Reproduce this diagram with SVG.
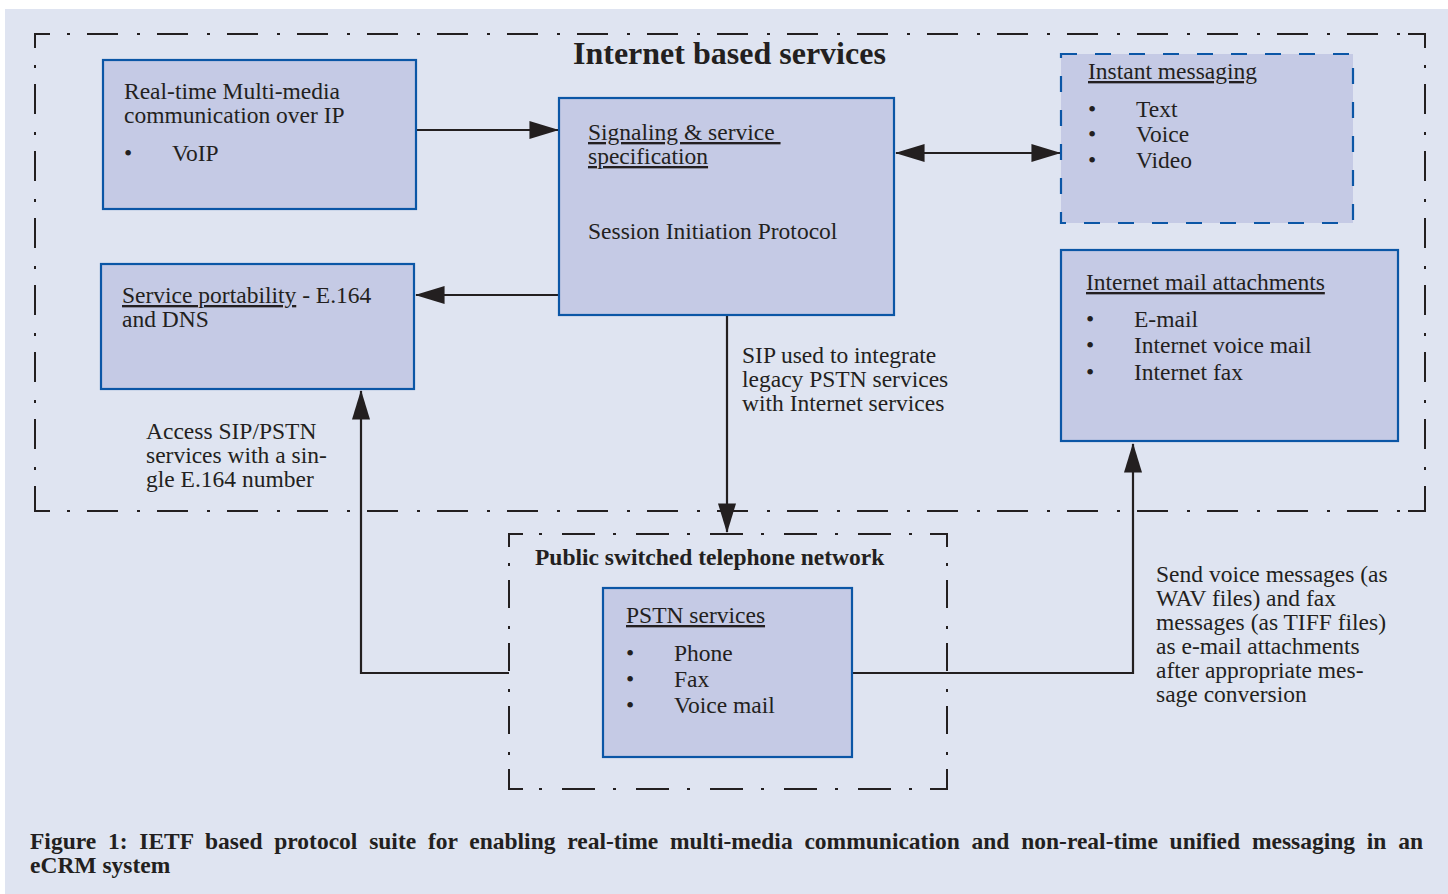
<svg xmlns="http://www.w3.org/2000/svg" width="1448" height="894" viewBox="0 0 1448 894">
  <style>
    .bg { fill: #dfe4f1; }
    .box { fill: #c5cae5; stroke: #0b56a6; stroke-width: 2.2; }
    .boxdash { fill: #c5cae5; stroke: #0b56a6; stroke-width: 2.2; stroke-dasharray: 16 18; }
    .t { font-family: "Liberation Serif", "Times New Roman", serif; font-size: 23.5px; fill: #231f20; }
    .b { font-family: "Liberation Serif", "Times New Roman", serif; font-weight: bold; fill: #231f20; }
    .u { text-decoration: underline; }
    .frame { fill: none; stroke: #231f20; stroke-width: 2; }
    .fh { stroke-dasharray: 31 19 3 17; }
    .fv { stroke-dasharray: 30 18 3 16; }
    .ph { stroke-dasharray: 33 18 3 20; }
    .pv { stroke-dasharray: 28 18 3 14; }
    .conn { fill: none; stroke: #231f20; stroke-width: 2.2; }
  </style>
  <defs>
    <marker id="head" markerUnits="userSpaceOnUse" markerWidth="30" markerHeight="18" viewBox="0 0 28 17" refX="27" refY="8.5" orient="auto-start-reverse">
      <path d="M0,0 L28,8.5 L0,17 Z" fill="#231f20"/>
    </marker>
  </defs>

  <!-- page background -->
  <rect class="bg" x="5" y="9" width="1443" height="885"/>

  <!-- outer dash-dot frame: Internet based services -->
  <g id="internet-frame">
    <polyline class="frame" points="50,34 35,34 35,48"/>
    <polyline class="frame" points="1408,34 1425,34 1425,48"/>
    <polyline class="frame" points="35,495 35,511 50,511"/>
    <polyline class="frame" points="1408,511 1425,511 1425,495"/>
    <line class="frame fh" x1="50" y1="34" x2="1408" y2="34" stroke-dashoffset="33"/>
    <line class="frame fh" x1="50" y1="511" x2="1408" y2="511" stroke-dashoffset="33"/>
    <line class="frame fv" x1="35" y1="48" x2="35" y2="495" stroke-dashoffset="31"/>
    <line class="frame fv" x1="1425" y1="48" x2="1425" y2="495" stroke-dashoffset="31"/>
    <text class="b" x="573" y="64" font-size="32">Internet based services</text>
  </g>

  <!-- inner dash-dot frame: PSTN -->
  <g id="pstn-frame">
    <polyline class="frame" points="523,534 509,534 509,547"/>
    <polyline class="frame" points="930,534 947,534 947,547"/>
    <polyline class="frame" points="509,773 509,789 523,789"/>
    <polyline class="frame" points="930,789 947,789 947,773"/>
    <line class="frame ph" x1="523" y1="534" x2="930" y2="534" stroke-dashoffset="35"/>
    <line class="frame ph" x1="523" y1="789" x2="930" y2="789" stroke-dashoffset="35"/>
    <line class="frame pv" x1="509" y1="547" x2="509" y2="773" stroke-dashoffset="30"/>
    <line class="frame pv" x1="947" y1="547" x2="947" y2="773" stroke-dashoffset="30"/>
    <text class="b" x="535" y="565" font-size="23.5">Public switched telephone network</text>
  </g>

  <!-- connectors -->
  <g id="connectors">
    <line class="conn" x1="416" y1="130" x2="558" y2="130" marker-end="url(#head)"/>
    <line class="conn" x1="896" y1="153" x2="1060" y2="153" marker-start="url(#head)" marker-end="url(#head)"/>
    <line class="conn" x1="559" y1="295" x2="416" y2="295" marker-end="url(#head)"/>
    <line class="conn" x1="727" y1="316" x2="727" y2="532" marker-end="url(#head)"/>
    <polyline class="conn" points="509,673 361,673 361,391" marker-end="url(#head)"/>
    <polyline class="conn" points="852,673 1133,673 1133,444" marker-end="url(#head)"/>
  </g>

  <!-- Real-time multi-media -->
  <g id="realtime">
    <rect class="box" x="103" y="60" width="313" height="149"/>
    <text class="t" x="124" y="99">Real-time Multi-media</text>
    <text class="t" x="124" y="123">communication over IP</text>
    <text class="t" x="124" y="161">•</text>
    <text class="t" x="172" y="161">VoIP</text>
  </g>

  <!-- Signaling & service specification -->
  <g id="signaling">
    <rect class="box" x="559" y="98" width="335" height="217"/>
    <text class="t u" x="588" y="140" xml:space="preserve">Signaling &amp; service </text>
    <text class="t u" x="588" y="164">specification</text>
    <text class="t" x="588" y="239">Session Initiation Protocol</text>
  </g>

  <!-- Instant messaging -->
  <g id="instant-messaging">
    <rect class="boxdash" x="1061" y="54" width="292" height="169"/>
    <text class="t u" x="1088" y="79">Instant messaging</text>
    <text class="t" x="1088" y="117">•</text>
    <text class="t" x="1136" y="117">Text</text>
    <text class="t" x="1088" y="142">•</text>
    <text class="t" x="1136" y="142">Voice</text>
    <text class="t" x="1088" y="168">•</text>
    <text class="t" x="1136" y="168">Video</text>
  </g>

  <!-- Service portability -->
  <g id="portability">
    <rect class="box" x="101" y="264" width="313" height="125"/>
    <text class="t" x="122" y="303"><tspan class="u">Service portability</tspan> - E.164</text>
    <text class="t" x="122" y="327">and DNS</text>
  </g>

  <!-- Internet mail attachments -->
  <g id="mail-attachments">
    <rect class="box" x="1061" y="250" width="337" height="191"/>
    <text class="t u" x="1086" y="290">Internet mail attachments</text>
    <text class="t" x="1086" y="327">•</text>
    <text class="t" x="1134" y="327">E-mail</text>
    <text class="t" x="1086" y="353">•</text>
    <text class="t" x="1134" y="353">Internet voice mail</text>
    <text class="t" x="1086" y="380">•</text>
    <text class="t" x="1134" y="380">Internet fax</text>
  </g>

  <!-- PSTN services -->
  <g id="pstn-services">
    <rect class="box" x="603" y="588" width="249" height="169"/>
    <text class="t u" x="626" y="623">PSTN services</text>
    <text class="t" x="626" y="661">•</text>
    <text class="t" x="674" y="661">Phone</text>
    <text class="t" x="626" y="687">•</text>
    <text class="t" x="674" y="687">Fax</text>
    <text class="t" x="626" y="713">•</text>
    <text class="t" x="674" y="713">Voice mail</text>
  </g>

  <!-- connector labels -->
  <g id="labels">
    <text class="t" x="742" y="363">SIP used to integrate</text>
    <text class="t" x="742" y="387">legacy PSTN services</text>
    <text class="t" x="742" y="411">with Internet services</text>
    <text class="t" x="146" y="439">Access SIP/PSTN</text>
    <text class="t" x="146" y="463">services with a sin-</text>
    <text class="t" x="146" y="487">gle E.164 number</text>
    <text class="t" x="1156" y="582">Send voice messages (as</text>
    <text class="t" x="1156" y="606">WAV files) and fax</text>
    <text class="t" x="1156" y="630">messages (as TIFF files)</text>
    <text class="t" x="1156" y="654">as e-mail attachments</text>
    <text class="t" x="1156" y="678">after appropriate mes-</text>
    <text class="t" x="1156" y="702">sage conversion</text>
  </g>

  <!-- caption, first line justified through word spacing -->
  <g id="caption">
    <text class="b" x="30" y="849" font-size="23.5" word-spacing="5.9">Figure 1: IETF based protocol suite for enabling real-time multi-media communication and non-real-time unified messaging in an</text>
    <text class="b" x="30" y="873" font-size="23.5">eCRM system</text>
  </g>
</svg>
